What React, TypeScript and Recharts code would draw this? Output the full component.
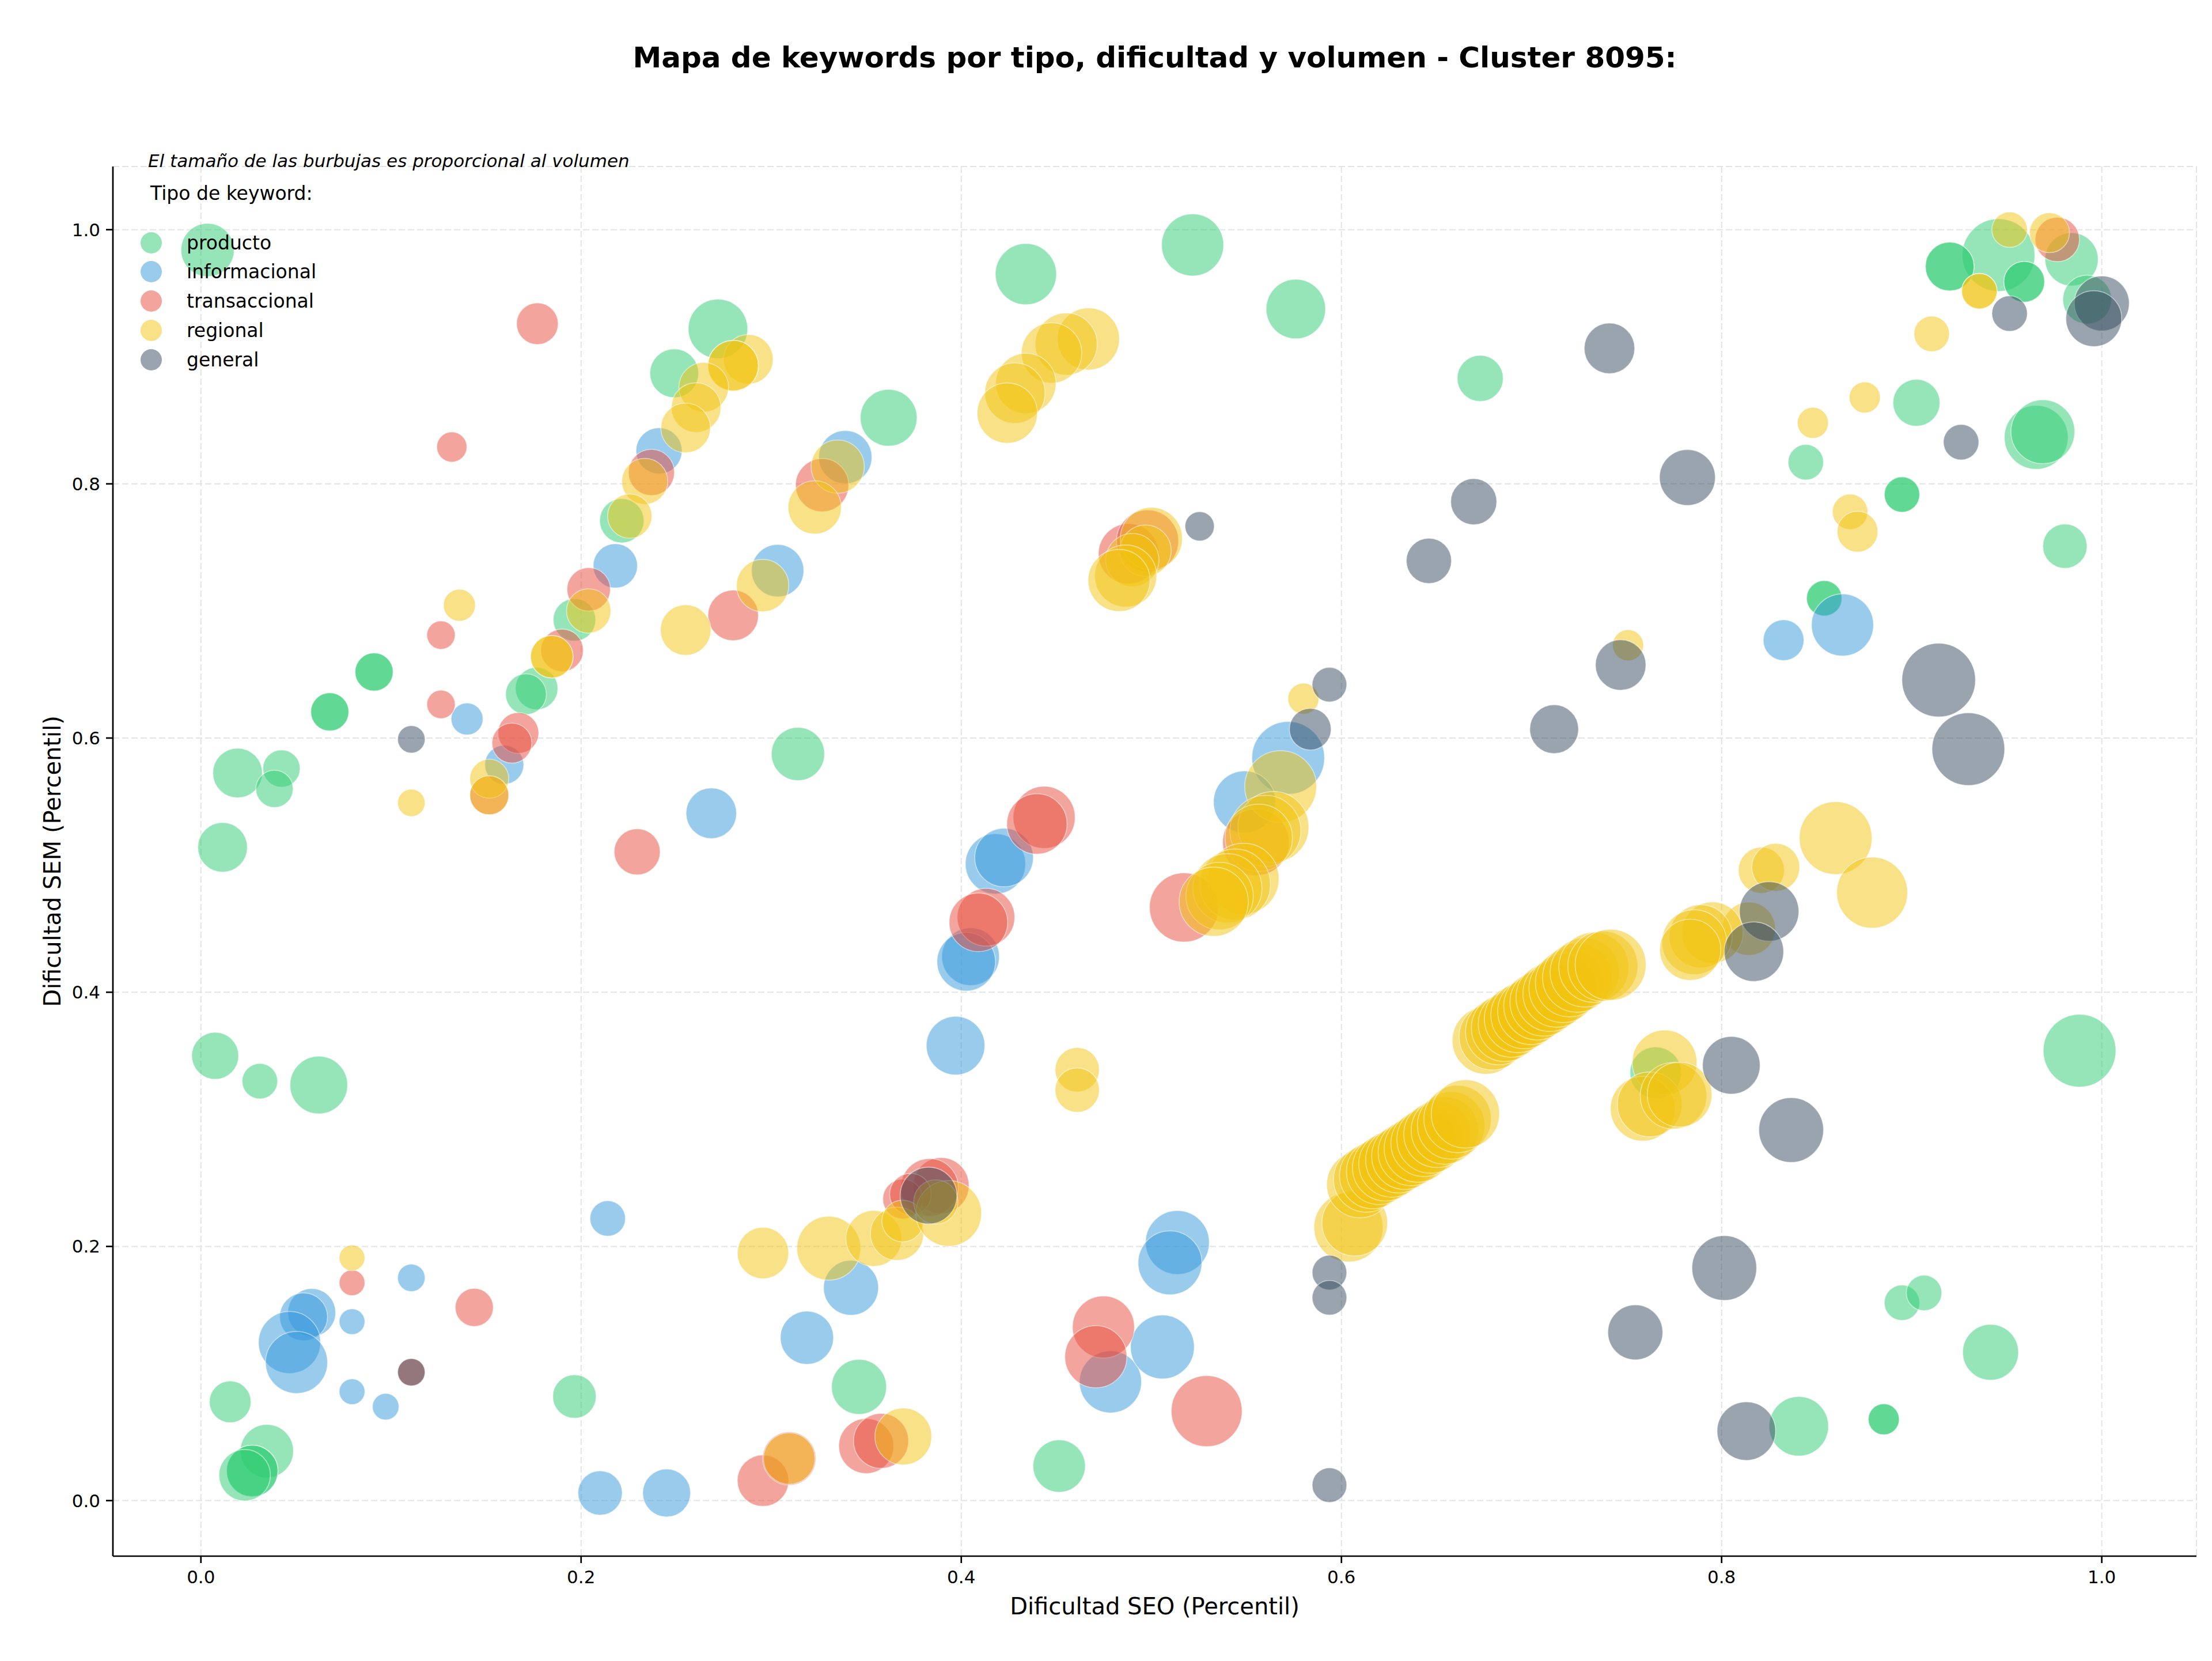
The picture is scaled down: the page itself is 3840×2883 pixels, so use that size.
import { ScatterChart, Scatter, XAxis, YAxis, ZAxis, CartesianGrid } from 'recharts'

const FONT = '"DejaVu Sans", sans-serif'

// [dificultad SEO, dificultad SEM, volumen]
type Pt = [number, number, number]

const producto: Pt[] = [
  [0.0035, 0.984, 4320], [0.272, 0.922, 5390], [0.249, 0.887, 3630], [0.2214, 0.771, 3000],
  [0.1965, 0.693, 2760], [0.1766, 0.639, 2760], [0.171, 0.6345, 2540], [0.0911, 0.652, 2220],
  [0.0911, 0.652, 2220], [0.0678, 0.6206, 2220], [0.0678, 0.6206, 2220], [0.0193, 0.5725, 3760],
  [0.0424, 0.576, 2120], [0.0387, 0.56, 2120], [0.0114, 0.514, 3760], [0.3141, 0.5875, 4320],
  [0.434, 0.965, 5710], [0.5217, 0.988, 5880], [0.576, 0.9376, 5390], [0.673, 0.883, 3240],
  [0.3618, 0.852, 4920], [0.9457, 0.98, 8070], [0.9841, 0.9767, 4320], [0.92, 0.971, 3630],
  [0.92, 0.971, 3630], [0.9592, 0.959, 2540], [0.9592, 0.959, 2540], [0.9923, 0.945, 3630],
  [0.9025, 0.8638, 3370], [0.9655, 0.8366, 6220], [0.969, 0.841, 6220], [0.8443, 0.817, 1920],
  [0.8949, 0.7916, 1920], [0.8949, 0.7916, 1920], [0.9806, 0.751, 3000], [0.854, 0.71, 1920],
  [0.854, 0.71, 1920], [0.0075, 0.35, 3370], [0.031, 0.33, 1920], [0.062, 0.327, 5070],
  [0.0154, 0.0777, 2650], [0.0347, 0.039, 4320], [0.027, 0.0233, 4040], [0.027, 0.0233, 4040],
  [0.023, 0.02, 4040], [0.1965, 0.0819, 2880], [0.3462, 0.0895, 4610], [0.4515, 0.0272, 4180],
  [0.9883, 0.354, 8070], [0.7653, 0.3367, 4040], [0.8406, 0.0585, 5390], [0.8853, 0.064, 1470],
  [0.8853, 0.064, 1470], [0.8949, 0.1557, 1920], [0.9065, 0.1634, 1920], [0.9415, 0.1167, 4760],
]

const informacional: Pt[] = [
  [0.241, 0.826, 3240], [0.218, 0.7355, 3000], [0.1596, 0.579, 2320], [0.14, 0.615, 1560],
  [0.3034, 0.7317, 4180], [0.2685, 0.5408, 3900], [0.339, 0.821, 4320], [0.572, 0.5844, 8070],
  [0.549, 0.5497, 5880], [0.8636, 0.689, 5880], [0.8326, 0.677, 2540], [0.214, 0.222, 1920],
  [0.1107, 0.1753, 1150], [0.0795, 0.1408, 1010], [0.0583, 0.148, 3500], [0.054, 0.1446, 3500],
  [0.0466, 0.1244, 5880], [0.0503, 0.1087, 5880], [0.0795, 0.0857, 1010], [0.0972, 0.0739, 1080],
  [0.21, 0.006, 3000], [0.245, 0.006, 3500], [0.3188, 0.1282, 4320], [0.342, 0.1675, 4610],
  [0.418, 0.501, 5550], [0.4225, 0.506, 5230], [0.4049, 0.428, 5070], [0.4026, 0.424, 5230],
  [0.397, 0.358, 5230], [0.5137, 0.2031, 6220], [0.5098, 0.1871, 6220], [0.4785, 0.0934, 5880],
  [0.5058, 0.1209, 6220],
]

const transaccional: Pt[] = [
  [0.177, 0.926, 2650], [0.132, 0.829, 1390], [0.237, 0.809, 3240], [0.204, 0.717, 2880],
  [0.19, 0.669, 2760], [0.167, 0.604, 2540], [0.1636, 0.596, 2430], [0.1517, 0.555, 2320],
  [0.1263, 0.681, 1230], [0.1263, 0.6265, 1230], [0.28, 0.6965, 3900], [0.2295, 0.5105, 3240],
  [0.3268, 0.799, 4320], [0.4436, 0.5376, 5880], [0.4398, 0.5324, 5550], [0.488, 0.745, 5550],
  [0.498, 0.755, 5880], [0.5172, 0.4667, 7300], [0.555, 0.518, 6750], [0.413, 0.459, 5070],
  [0.409, 0.455, 5230], [0.0795, 0.1714, 1010], [0.1438, 0.152, 2220], [0.1107, 0.101, 1150],
  [0.2957, 0.0157, 4040], [0.3095, 0.0331, 4320], [0.35, 0.0429, 4610], [0.3578, 0.047, 4610],
  [0.3894, 0.2479, 4760], [0.3833, 0.2464, 5070], [0.3692, 0.2373, 2430], [0.3733, 0.2411, 2650],
  [0.4748, 0.1366, 5880], [0.4708, 0.1132, 5880], [0.5291, 0.0704, 7680], [0.9766, 0.9923, 3000],
]

const regional: Pt[] = [
  [0.288, 0.898, 3760], [0.28, 0.893, 3900], [0.28, 0.893, 3900], [0.2645, 0.876, 3760],
  [0.2605, 0.86, 3760], [0.255, 0.844, 3760], [0.2335, 0.802, 3240], [0.2256, 0.7746, 3000],
  [0.204, 0.7, 3000], [0.1846, 0.664, 2760], [0.1846, 0.664, 2760], [0.1517, 0.568, 2320],
  [0.1517, 0.555, 2320], [0.136, 0.7045, 1560], [0.1107, 0.549, 1150], [0.255, 0.685, 3900],
  [0.2955, 0.72, 4180], [0.335, 0.8136, 4320], [0.3229, 0.7815, 4320],
  [0.4669, 0.914, 5880], [0.4552, 0.91, 5880], [0.4475, 0.903, 5550], [0.434, 0.879, 5550],
  [0.4282, 0.8714, 5550], [0.4242, 0.8557, 5550], [0.5, 0.757, 5880], [0.4969, 0.7474, 4040],
  [0.49, 0.74, 4320], [0.4865, 0.7275, 5880], [0.483, 0.724, 5880], [0.58, 0.631, 1470],
  [0.568, 0.5618, 7870], [0.5642, 0.53, 7680], [0.56, 0.527, 7680], [0.5565, 0.5215, 6930],
  [0.5485, 0.4893, 7680], [0.544, 0.4848, 7680], [0.54, 0.4818, 7300], [0.5359, 0.4757, 6930],
  [0.5328, 0.4712, 7300], [0.461, 0.339, 3000], [0.461, 0.323, 3000], [0.7508, 0.673, 1470],
  [0.9515, 1.0, 1920], [0.9725, 0.9976, 2430], [0.9356, 0.9516, 1920], [0.9356, 0.9516, 1920],
  [0.9105, 0.918, 1920], [0.8753, 0.868, 1470], [0.848, 0.848, 1470], [0.8676, 0.778, 1920],
  [0.8715, 0.7624, 2540], [0.86, 0.5213, 8070], [0.8792, 0.4784, 7680], [0.8209, 0.496, 3240],
  [0.8285, 0.4983, 3500], [0.8143, 0.45, 4320], [0.7952, 0.447, 5710], [0.789, 0.444, 6050],
  [0.7856, 0.4394, 6390], [0.7835, 0.4334, 5710],
  [0.6037, 0.215, 7300], [0.607, 0.2184, 6570], [0.6097, 0.2487, 6750], [0.6131, 0.2528, 6570],
  [0.6165, 0.2558, 6750], [0.6199, 0.2588, 6570], [0.6233, 0.2619, 6750], [0.6266, 0.2649, 6750],
  [0.63, 0.2679, 6570], [0.6334, 0.271, 6750], [0.6368, 0.274, 6750], [0.6402, 0.277, 6930],
  [0.6435, 0.2811, 6750], [0.6469, 0.2841, 6930], [0.6503, 0.2882, 6750], [0.6544, 0.2912, 6930],
  [0.6577, 0.2952, 6930], [0.6611, 0.3003, 6930], [0.6652, 0.3043, 7110],
  [0.676, 0.362, 6930], [0.6794, 0.365, 6750], [0.6828, 0.369, 6750], [0.6861, 0.372, 6930],
  [0.6895, 0.375, 6750], [0.6929, 0.379, 6930], [0.6963, 0.382, 6930], [0.6997, 0.385, 6750],
  [0.7031, 0.389, 6930], [0.7064, 0.392, 6930], [0.7098, 0.396, 7110], [0.7132, 0.399, 6930],
  [0.7166, 0.403, 7110], [0.72, 0.4075, 7110], [0.724, 0.4115, 7300], [0.728, 0.4156, 7300],
  [0.7328, 0.4196, 7480], [0.7375, 0.4206, 7480], [0.7416, 0.4216, 7680],
  [0.77, 0.3448, 6390], [0.7585, 0.3084, 6390], [0.7622, 0.3118, 6390], [0.7747, 0.3185, 6750],
  [0.7779, 0.3195, 6390],
  [0.0795, 0.191, 1010], [0.2957, 0.1948, 4040], [0.3303, 0.1986, 6220], [0.354, 0.2063, 4760],
  [0.3662, 0.21, 4320], [0.3692, 0.22, 2650], [0.3934, 0.226, 6570], [0.3866, 0.235, 3000],
  [0.3095, 0.0331, 4040], [0.3695, 0.0505, 4920],
]

const general: Pt[] = [
  [0.1107, 0.599, 1150], [0.5254, 0.7666, 1310], [0.6696, 0.786, 3240], [0.646, 0.7394, 3120],
  [0.5937, 0.642, 1830], [0.5836, 0.607, 2650], [0.741, 0.9066, 3900], [0.782, 0.805, 4760],
  [0.7469, 0.6575, 3900], [0.7119, 0.607, 3630], [0.9515, 0.934, 1920], [1.0, 0.942, 4610],
  [0.9958, 0.93, 4760], [0.926, 0.8328, 1920], [0.9142, 0.6456, 8270], [0.9298, 0.5913, 8070],
  [0.1107, 0.101, 1150], [0.3828, 0.24, 4920], [0.5937, 0.1794, 1830], [0.5937, 0.1596, 1830],
  [0.5937, 0.0122, 1830], [0.825, 0.4636, 5390], [0.817, 0.4319, 5390], [0.8051, 0.3425, 5070],
  [0.8366, 0.2916, 6390], [0.8014, 0.183, 6390], [0.7546, 0.1324, 4610], [0.813, 0.0547, 5230],
]

const TICKS = [0, 0.2, 0.4, 0.6, 0.8, 1.0]

const SERIES = [
  { name: 'producto', color: '#2ecc71', data: producto },
  { name: 'informacional', color: '#3498db', data: informacional },
  { name: 'transaccional', color: '#e74c3c', data: transaccional },
  { name: 'regional', color: '#f1c40f', data: regional },
  { name: 'general', color: '#34495e', data: general },
]

const toRows = (pts: Pt[]) => pts.map(([x, y, v]) => ({ x, y, v }))

const axisStroke = { stroke: '#000', strokeWidth: 2.7 }
const tickStyle = { fill: '#000', fontSize: 31, fontFamily: FONT }

export default function App() {
  return (
    <div style={{ position: 'absolute', left: 0, top: 0, width: 3840, height: 2883, background: '#fff', fontFamily: FONT }}>
      <ScatterChart width={3840} height={2883} margin={{ top: 289, right: 27, bottom: 122, left: 76 }}>
        <CartesianGrid strokeDasharray="11 5" stroke="#e3e3e3" strokeWidth={2} />
        <XAxis
          type="number"
          dataKey="x"
          domain={[-0.0463, 1.0498]}
          allowDataOverflow
          ticks={TICKS}
          tickFormatter={(v: number) => v.toFixed(1)}
          height={60}
          tickSize={12}
          tickMargin={13}
          axisLine={axisStroke}
          tickLine={axisStroke}
          tick={tickStyle}
          label={{ value: 'Dificultad SEO (Percentil)', position: 'bottom', offset: 13, fill: '#000', fontSize: 40, fontFamily: FONT }}
        />
        <YAxis
          type="number"
          dataKey="y"
          domain={[-0.0437, 1.0497]}
          allowDataOverflow
          ticks={TICKS}
          tickFormatter={(v: number) => v.toFixed(1)}
          width={120}
          tickSize={12}
          tickMargin={10}
          axisLine={axisStroke}
          tickLine={axisStroke}
          tick={tickStyle}
          label={{
            content: () => (
              <text x={91} y={1495} transform="rotate(-90 91 1495)" textAnchor="middle" dominantBaseline="central"
                fill="#000" fontSize={40} fontFamily={FONT}>
                Dificultad SEM (Percentil)
              </text>
            ),
          }}
        />
        <ZAxis type="number" dataKey="v" domain={[0, 10000]} range={[0, 15490]} />
        {SERIES.map(s => (
          <Scatter
            key={s.name}
            name={s.name}
            data={toRows(s.data)}
            fill={s.color}
            fillOpacity={0.5}
            stroke="#fff"
            strokeWidth={1.6}
            strokeOpacity={0.5}
            isAnimationActive={false}
          />
        ))}
      </ScatterChart>

      {/* title + note */}
      <div style={{ position: 'absolute', left: 196, top: 75, width: 3617, textAlign: 'center', fontSize: 50, fontWeight: 700, lineHeight: 1 }}>
        Mapa de keywords por tipo, dificultad y volumen - Cluster 8095:
      </div>
      <div style={{ position: 'absolute', left: 257, top: 264, fontSize: 31, fontStyle: 'italic', lineHeight: 1, whiteSpace: 'nowrap' }}>
        El tamaño de las burbujas es proporcional al volumen
      </div>

      {/* legend */}
      <div style={{ position: 'absolute', left: 261, top: 319, fontSize: 33, lineHeight: 1, whiteSpace: 'nowrap' }}>
        Tipo de keyword:
      </div>
      {SERIES.map((s, i) => {
        const cy = 421 + i * 50.8
        return (
          <div key={s.name}>
            <div style={{
              position: 'absolute', left: 262 - 18.5, top: cy - 18.5, width: 37, height: 37,
              borderRadius: '50%', background: s.color, opacity: 0.5,
            }} />
            <div style={{ position: 'absolute', left: 324, top: cy - 16.4, fontSize: 33, lineHeight: 1, whiteSpace: 'nowrap' }}>
              {s.name}
            </div>
          </div>
        )
      })}
    </div>
  )
}
